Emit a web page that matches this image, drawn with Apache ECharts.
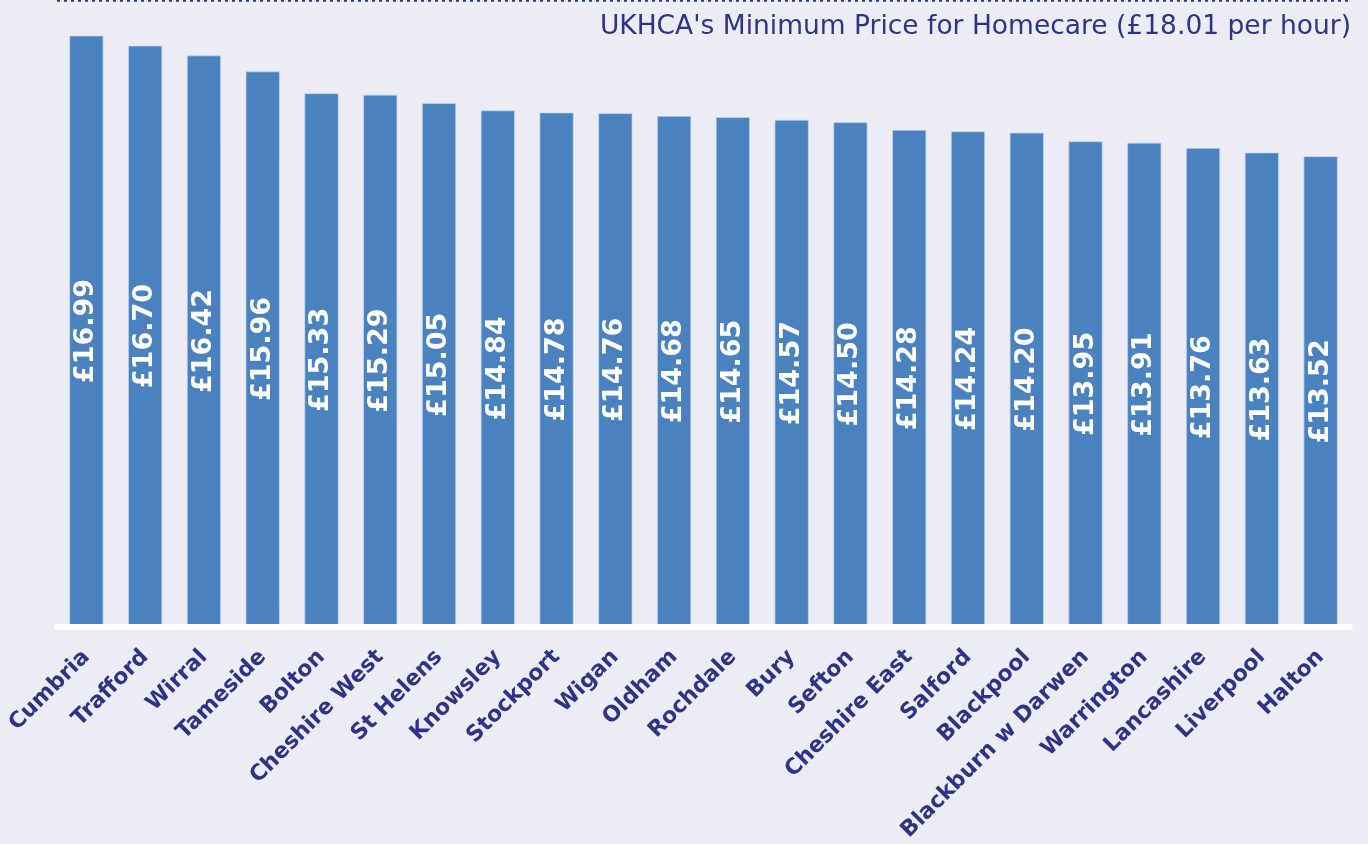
<!DOCTYPE html>
<html>
<head>
<meta charset="utf-8">
<style>
  html, body { margin: 0; padding: 0; background: #ececf4; }
  #chart { width: 1368px; height: 844px; }
</style>
<script src="https://cdn.jsdelivr.net/npm/echarts@6/dist/echarts.min.js"></script>
</head>
<body>
<div id="chart"></div>
<script>
var councils = ['Cumbria', 'Trafford', 'Wirral', 'Tameside', 'Bolton', 'Cheshire West', 'St Helens',
  'Knowsley', 'Stockport', 'Wigan', 'Oldham', 'Rochdale', 'Bury', 'Sefton', 'Cheshire East',
  'Salford', 'Blackpool', 'Blackburn w Darwen', 'Warrington', 'Lancashire', 'Liverpool', 'Halton']
var hourlyRate = [16.99, 16.70, 16.42, 15.96, 15.33, 15.29, 15.05, 14.84, 14.78, 14.76, 14.68,
  14.65, 14.57, 14.50, 14.28, 14.24, 14.20, 13.95, 13.91, 13.76, 13.63, 13.52]
var minimumPrice = 18.01

var navy = '#2e3388'
var chart = echarts.init(document.getElementById('chart'))

chart.setOption({
  backgroundColor: '#ececf4',
  animation: false,
  title: {
    text: "UKHCA's Minimum Price for Homecare (£" + minimumPrice.toFixed(2) + ' per hour)',
    right: 17,
    top: 14,
    padding: 0,
    textStyle: {
      color: navy,
      fontFamily: 'DejaVu Sans',
      fontWeight: 'normal',
      fontSize: 26.5
    }
  },
  grid: {
    left: 57,
    right: 18,
    top: 0,
    bottom: 215
  },
  xAxis: {
    type: 'category',
    data: councils,
    z: 3,
    axisLine: {
      lineStyle: { color: '#ffffff', width: 6 }
    },
    axisTick: { show: false },
    axisLabel: {
      rotate: 45,
      interval: 0,
      margin: 27,
      color: navy,
      fontFamily: 'DejaVu Sans',
      fontWeight: 'bold',
      fontSize: 22
    }
  },
  yAxis: {
    type: 'value',
    min: 0,
    max: minimumPrice,
    show: false,
    splitLine: { show: false }
  },
  series: [{
    type: 'bar',
    data: hourlyRate,
    barWidth: '58.5%',
    itemStyle: {
      color: '#4a82c0',
      borderColor: 'rgba(200,215,240,0.7)',
      borderWidth: 1
    },
    label: {
      show: true,
      position: 'inside',
      rotate: 90,
      color: '#ffffff',
      fontFamily: 'DejaVu Sans',
      fontWeight: 'bold',
      fontSize: 27,
      formatter: function (p) {
        return '£' + p.value.toFixed(2)
      }
    },
    markLine: {
      silent: true,
      symbol: 'none',
      label: { show: false },
      lineStyle: {
        color: navy,
        width: 3.5,
        type: [3, 4]
      },
      data: [{ yAxis: minimumPrice }]
    }
  }]
})
</script>
</body>
</html>
